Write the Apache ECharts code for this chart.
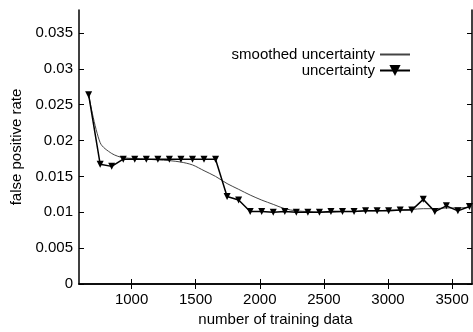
<!DOCTYPE html>
<html>
<head>
<meta charset="utf-8">
<script src="https://cdn.jsdelivr.net/npm/echarts@6/dist/echarts.min.js"></script>
<style>html,body{margin:0;padding:0;background:#fff}#c{width:473px;height:332px}</style>
</head>
<body>
<div id="c"></div>
<script>
const xValues = [665, 755, 845, 935, 1025, 1115, 1205, 1295, 1385, 1475, 1565, 1655, 1745, 1835, 1925, 2015, 2105, 2195, 2285, 2375, 2465, 2555, 2645, 2735, 2825, 2915, 3005, 3095, 3185, 3275, 3365, 3455, 3545, 3635];
const uncertainty = [0.0264, 0.0167, 0.0164, 0.0174, 0.0174, 0.0174, 0.0174, 0.0174, 0.0174, 0.0174, 0.0174, 0.0174, 0.0122, 0.0117, 0.0101, 0.0101, 0.0100, 0.0101, 0.0100, 0.0100, 0.0100, 0.0101, 0.0101, 0.0101, 0.0102, 0.0102, 0.0102, 0.0103, 0.0103, 0.0118, 0.0101, 0.0109, 0.0102, 0.0108];
const smoothed = [0.0264, 0.0197, 0.0182, 0.0176, 0.0175, 0.0174, 0.0173, 0.0172, 0.0170, 0.0166, 0.0158, 0.0150, 0.0140, 0.0132, 0.0124, 0.0117, 0.0111, 0.0105, 0.0102, 0.0101, 0.0100, 0.0100, 0.0101, 0.0101, 0.0102, 0.0102, 0.0103, 0.0103, 0.0104, 0.0105, 0.0105, 0.0106, 0.0106, 0.0107];
const xTicks = [1000, 1500, 2000, 2500, 3000, 3500];
const yTicks = [0, 0.005, 0.01, 0.015, 0.02, 0.025, 0.03, 0.035];
const yTickLabels = ['0', '0.005', '0.01', '0.015', '0.02', '0.025', '0.03', '0.035'];

const font = '"Liberation Sans", Arial, sans-serif';
const chart = echarts.init(document.getElementById('c'), null, {renderer: 'canvas'});
const axisLine = {show: true, lineStyle: {color: '#000', width: 1.5}};
const xBase = {type: 'value', min: 590, max: 3655, splitLine: {show: false}, axisLine: axisLine};
const yBase = {type: 'value', min: 0, max: 0.0382, splitLine: {show: false}, axisLine: axisLine};
chart.setOption({
  animation: false,
  backgroundColor: '#fff',
  textStyle: {fontFamily: font},
  grid: {left: 79, right: 1, top: 10, bottom: 45, show: false},
  legend: {
    orient: 'vertical', right: 57, top: 42, align: 'right', itemGap: 1,
    itemWidth: 30, itemHeight: 14,
    textStyle: {fontFamily: font, fontSize: 15, color: '#000', padding: [0, 0, 0, 0]},
    data: [
      {name: 'smoothed uncertainty', itemStyle: {opacity: 0}},
      {name: 'uncertainty'}
    ]
  },
  xAxis: [
    Object.assign({}, xBase, {
      position: 'bottom',
      name: 'number of training data', nameLocation: 'middle', nameGap: 28,
      nameTextStyle: {fontFamily: font, fontSize: 15, color: '#000'},
      axisTick: {show: true, inside: true, length: 5, customValues: xTicks, lineStyle: {color: '#000'}},
      axisLabel: {show: true, customValues: xTicks, fontFamily: font, fontSize: 15, color: '#000', margin: 8,
        formatter: function (v) { return String(v); }}
    }),
    Object.assign({}, xBase, {
      position: 'top',
      axisTick: {show: true, inside: true, length: 5, customValues: xTicks, lineStyle: {color: '#000'}},
      axisLabel: {show: false}
    })
  ],
  yAxis: [
    Object.assign({}, yBase, {
      position: 'left',
      name: 'false positive rate', nameLocation: 'middle', nameGap: 49, nameRotate: 90,
      nameTextStyle: {fontFamily: font, fontSize: 15, color: '#000'},
      axisTick: {show: true, inside: true, length: 5, customValues: yTicks, lineStyle: {color: '#000'}},
      axisLabel: {show: true, customValues: yTicks, fontFamily: font, fontSize: 15, color: '#000', margin: 6,
        formatter: function (v) { const i = yTicks.findIndex(t => Math.abs(t - v) < 1e-9); return i >= 0 ? yTickLabels[i] : ''; }}
    }),
    Object.assign({}, yBase, {
      position: 'right',
      axisTick: {show: true, inside: true, length: 5, customValues: yTicks, lineStyle: {color: '#000'}},
      axisLabel: {show: false}
    })
  ],
  series: [
    {
      name: 'smoothed uncertainty', type: 'line', smooth: 0.3, symbol: 'none',
      xAxisIndex: 0, yAxisIndex: 0,
      lineStyle: {color: '#444', width: 1},
      itemStyle: {color: '#444'},
      data: xValues.map((x, i) => [x, smoothed[i]])
    },
    {
      name: 'uncertainty', type: 'line', symbol: 'triangle', symbolSize: 7, symbolRotate: 180,
      xAxisIndex: 0, yAxisIndex: 0,
      lineStyle: {color: '#000', width: 1.5},
      itemStyle: {color: '#000'},
      data: xValues.map((x, i) => [x, uncertainty[i]])
    }
  ]
});
</script>
</body>
</html>
